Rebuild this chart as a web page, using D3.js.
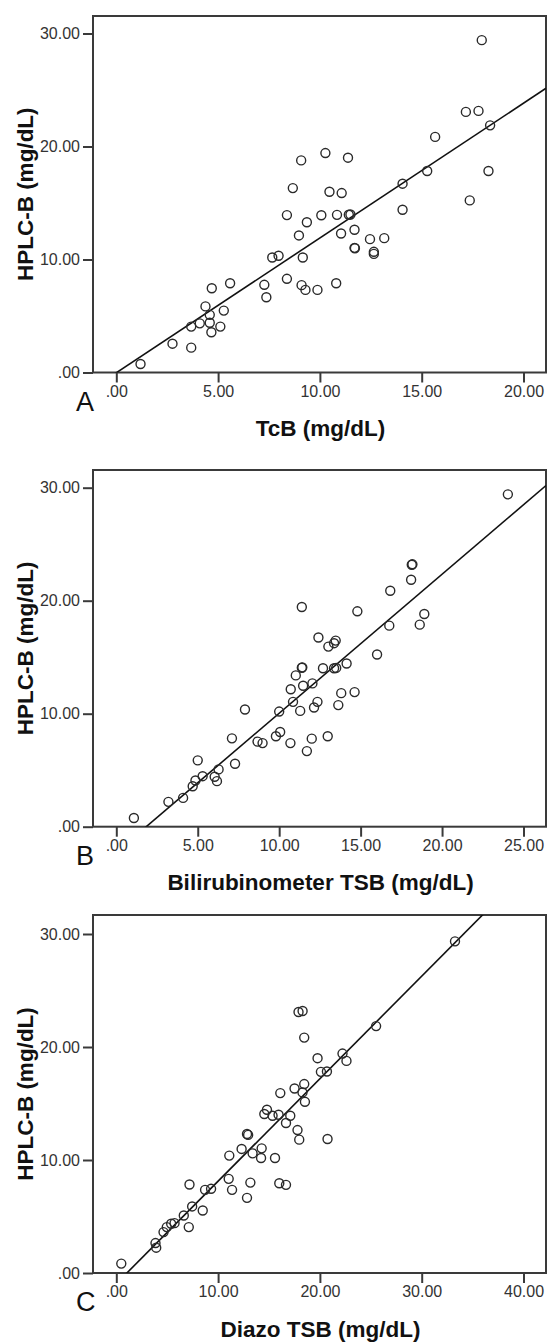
<!DOCTYPE html>
<html><head><meta charset="utf-8">
<script src="https://cdn.jsdelivr.net/npm/d3@7"></script>
<style>
html,body{margin:0;padding:0;background:#fff;}
svg{display:block;}
</style></head>
<body>
<svg id="chart" width="547" height="1343"></svg>
<script>
// ---------- DATA ----------
const panelLetters = ["A", "B", "C"];
const xTitles = ["TcB (mg/dL)", "Bilirubinometer TSB (mg/dL)", "Diazo TSB (mg/dL)"];
const yTitle = "HPLC-B (mg/dL)";
const yTicks = [0, 10, 20, 30];
const xTicksA = [0, 5, 10, 15, 20];
const xTicksB = [0, 5, 10, 15, 20, 25];
const xTicksC = [0, 10, 20, 30, 40];

// Panel A: TcB vs HPLC-B
const tcbX = [1.19, 2.76, 3.68, 3.68, 4.1, 4.38, 4.59, 4.59, 4.67, 4.69, 5.11, 5.28, 5.59, 7.27, 7.37, 7.66, 7.97, 8.38, 8.38, 8.67,
  8.97, 9.08, 9.1, 9.16, 9.29, 9.36, 9.88, 10.07, 10.27, 10.47, 10.84, 10.8, 11.07, 11.04, 11.38, 11.42, 11.5, 11.7, 11.7, 11.72,
  12.46, 12.65, 12.65, 13.16, 14.06, 14.06, 15.27, 15.66, 17.17, 17.79, 17.36, 17.95, 18.28, 18.36];
const tcbY = [0.75, 2.55, 2.2, 4.06, 4.35, 5.85, 5.1, 4.4, 3.56, 7.46, 4.06, 5.48, 7.9, 7.76, 6.66, 10.18, 10.33, 8.29, 13.93, 16.32,
  12.13, 18.77, 7.73, 10.18, 7.31, 13.3, 7.31, 13.92, 19.42, 16.0, 13.95, 7.9, 15.88, 12.3, 19.01, 13.96, 13.98, 12.63, 11.03, 11.0,
  11.8, 10.68, 10.5, 11.89, 16.71, 14.4, 17.83, 20.85, 23.06, 23.15, 15.23, 29.41, 17.83, 21.87];

// Panel B: Bilirubinometer TSB vs HPLC-B
const bilX = [1.08, 3.2, 4.1, 4.69, 4.86, 5.0, 5.3, 6.04, 6.18, 6.28, 7.1, 7.29, 7.9, 8.67, 8.98, 9.8, 10.06, 10.0, 10.69, 10.71,
  10.85, 11.29, 11.39, 11.02, 11.39, 11.42, 11.47, 11.7, 12.0, 12.04, 12.14, 12.35, 12.41, 12.69, 12.98, 13.02, 13.37, 13.47, 13.37, 13.5,
  13.63, 13.81, 14.14, 14.63, 14.8, 16.01, 16.76, 16.82, 18.1, 18.14, 18.18, 18.63, 18.91, 24.04];
const bilY = [0.77, 2.2, 2.55, 3.58, 4.09, 5.87, 4.47, 4.42, 4.03, 5.07, 7.82, 5.57, 10.37, 7.53, 7.4, 8.0, 8.38, 10.19, 7.4, 12.16,
  11.05, 10.25, 19.44, 13.39, 14.07, 14.1, 12.47, 6.69, 7.79, 12.68, 10.55, 11.05, 16.74, 14.02, 8.0, 15.94, 16.24, 16.47, 14.02, 14.05,
  10.76, 11.82, 14.44, 11.91, 19.06, 15.24, 17.79, 20.88, 21.85, 23.18, 23.22, 17.88, 18.82, 29.41];

// Panel C: Diazo TSB vs HPLC-B
const diazoX = [0.49, 3.85, 3.92, 4.64, 4.96, 5.39, 5.72, 6.63, 7.12, 7.45, 8.49, 7.19, 8.72, 9.31, 11.04, 11.37, 12.84, 13.17, 11.1, 12.31,
  12.84, 12.95, 13.39, 14.28, 14.22, 15.59, 16.01, 16.67, 14.54, 14.8, 15.35, 15.94, 16.67, 17.09, 16.11, 17.8, 17.97, 17.51, 18.46, 18.29,
  18.53, 20.75, 19.77, 20.1, 20.69, 22.22, 22.61, 17.9, 18.3, 18.46, 25.52, 33.27];
const diazoY = [0.83, 2.65, 2.24, 3.62, 4.06, 4.36, 4.41, 5.09, 4.06, 5.89, 5.53, 7.83, 7.36, 7.45, 8.33, 7.36, 6.65, 8.0, 10.39, 10.98,
  12.3, 12.22, 10.59, 11.03, 10.18, 10.18, 7.94, 7.8, 14.07, 14.45, 13.92, 14.0, 13.27, 13.92, 15.92, 12.65, 11.8, 16.33, 16.72, 15.98,
  15.15, 11.86, 19.01, 17.8, 17.83, 19.42, 18.77, 23.1, 23.19, 20.83, 21.85, 29.35];

// Fit lines (intercept, slope)
const fitIntercepts = [-0.024, -2.26, -0.943];
const fitSlopes = [1.193, 1.23, 0.907];

// ---------- LAYOUT ----------
const panels = [
  {xs: tcbX, ys: tcbY, ticks: xTicksA, top: 16, bottom: 372.5},
  {xs: bilX, ys: bilY, ticks: xTicksB, top: 470, bottom: 826.7},
  {xs: diazoX, ys: diazoY, ticks: xTicksC, top: 915, bottom: 1273}
];
const frameLeft = 93, frameRight = 546;
const xZeroPx = 116.3, xMaxPx = 523.5;
const yUnit = 11.3;
const axisColor = "#3a3a3a";
const fmt = v => v === 0 ? ".00" : d3.format(".2f")(v);

const svg = d3.select("#chart");

panels.forEach((p, i) => {
  const g = svg.append("g");
  const xMax = p.ticks[p.ticks.length - 1];
  const x = d3.scaleLinear().domain([0, xMax]).range([xZeroPx, xMaxPx]);
  const y = d3.scaleLinear().domain([0, 30]).range([p.bottom, p.bottom - 30 * yUnit]);

  const clipId = "clip" + i;
  svg.append("clipPath").attr("id", clipId).append("rect")
    .attr("x", frameLeft).attr("y", p.top)
    .attr("width", frameRight - frameLeft).attr("height", p.bottom - p.top);

  // y axis
  const yAxis = d3.axisLeft(y).tickValues(yTicks).tickFormat(fmt).tickSize(10).tickPadding(3);
  const ya = g.append("g").attr("transform", `translate(${frameLeft},0)`).call(yAxis);
  // x axis
  const xAxis = d3.axisBottom(x).tickValues(p.ticks).tickFormat(fmt).tickSize(10).tickPadding(3);
  const xa = g.append("g").attr("transform", `translate(0,${p.bottom})`).call(xAxis);
  [ya, xa].forEach(a => {
    a.select(".domain").remove();
    a.selectAll("line").attr("stroke", axisColor).attr("stroke-width", 2);
    a.selectAll("text").attr("fill", "#333")
      .style("font-family", "'Liberation Sans', Arial, sans-serif").style("font-size", "16px");
  });

  // frame
  g.append("rect").attr("x", frameLeft).attr("y", p.top)
    .attr("width", frameRight - frameLeft).attr("height", p.bottom - p.top)
    .attr("fill", "none").attr("stroke", axisColor).attr("stroke-width", 2);

  // fit line
  const xLo = x.invert(frameLeft), xHi = x.invert(frameRight);
  const fitPts = [xLo, xHi].map(v => [v, fitIntercepts[i] + fitSlopes[i] * v]);
  g.append("line").attr("clip-path", `url(#${clipId})`)
    .attr("x1", x(fitPts[0][0])).attr("y1", y(fitPts[0][1]))
    .attr("x2", x(fitPts[1][0])).attr("y2", y(fitPts[1][1]))
    .attr("stroke", "#111").attr("stroke-width", 1.6);

  // points
  g.append("g").attr("clip-path", `url(#${clipId})`).selectAll("circle")
    .data(d3.range(p.xs.length)).join("circle")
    .attr("cx", k => x(p.xs[k])).attr("cy", k => y(p.ys[k]))
    .attr("r", 4.5).attr("fill", "none").attr("stroke", "#2a2a2a").attr("stroke-width", 1.4);

  // y title
  const ymid = (p.top + p.bottom) / 2;
  g.append("text").attr("transform", `translate(33,${ymid}) rotate(-90)`)
    .attr("text-anchor", "middle")
    .style("font-family", "'Liberation Sans', Arial, sans-serif").style("font-weight", "bold")
    .style("font-size", "22.5px").attr("fill", "#111").text(yTitle);

  // x title
  g.append("text").attr("x", (frameLeft + frameRight) / 2 + 1).attr("y", p.bottom + 63.5)
    .attr("text-anchor", "middle")
    .style("font-family", "'Liberation Sans', Arial, sans-serif").style("font-weight", "bold")
    .style("font-size", "22.5px").attr("fill", "#111").text(xTitles[i]);

  // panel letter
  g.append("text").attr("x", 76).attr("y", p.bottom + 38)
    .style("font-family", "'Liberation Sans', Arial, sans-serif")
    .style("font-size", "27px").attr("fill", "#111").text(panelLetters[i]);
});
</script>
</body></html>
